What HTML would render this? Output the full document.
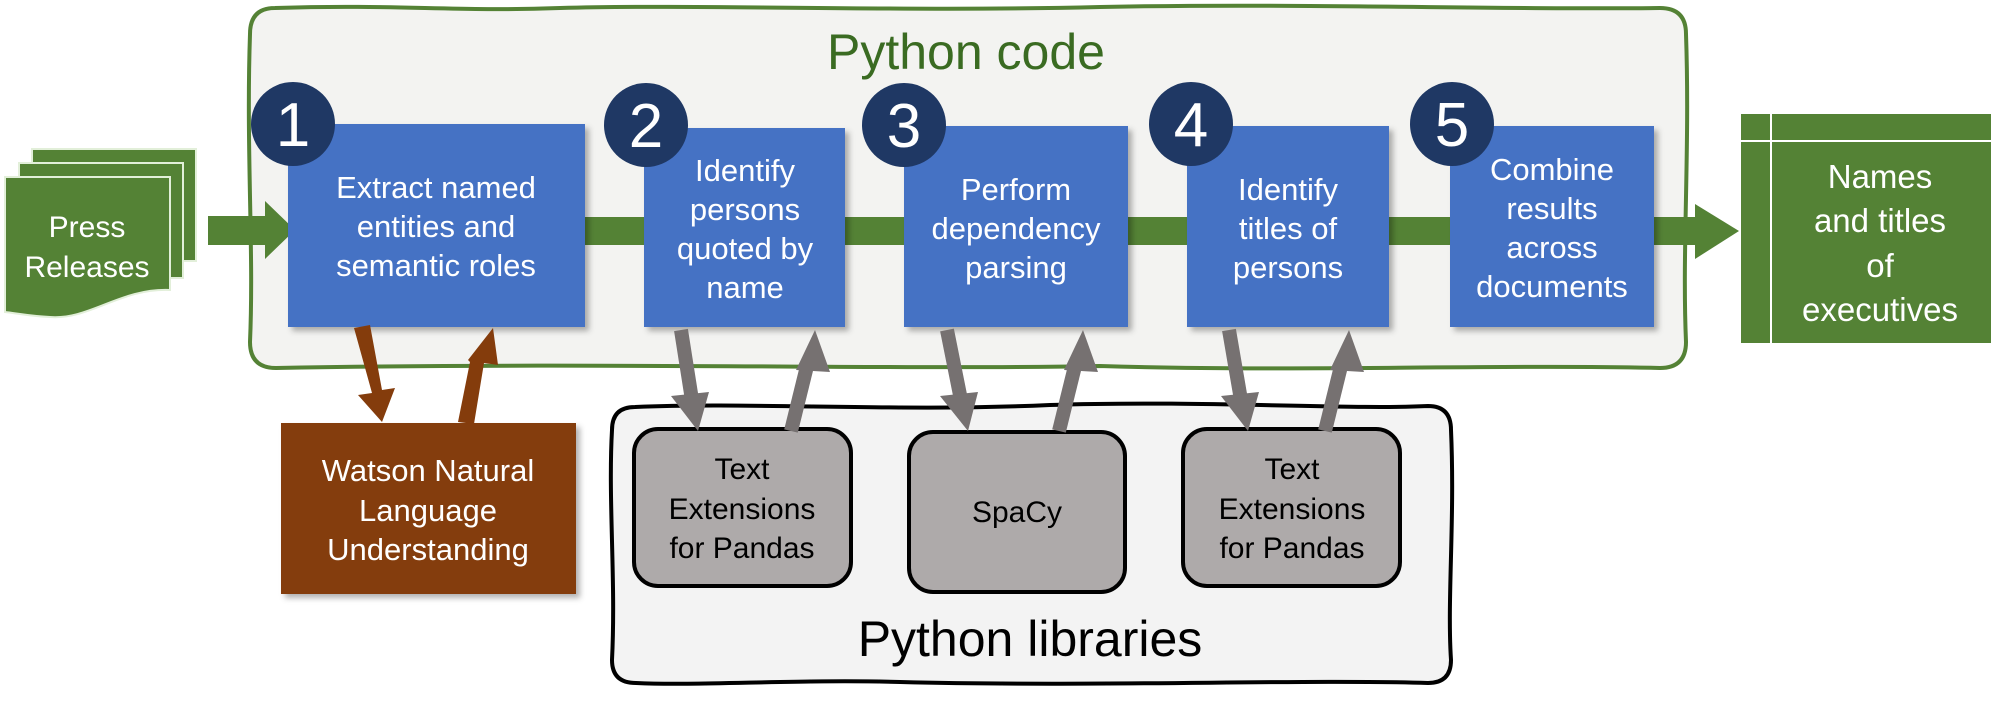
<!DOCTYPE html>
<html><head><meta charset="utf-8"><style>
html,body{margin:0;padding:0;background:#fff}
svg{display:block}
text{font-family:"Liberation Sans",sans-serif}
</style></head><body>
<svg width="1991" height="708" viewBox="0 0 1991 708" xmlns="http://www.w3.org/2000/svg">
<defs>
<filter id="sh" x="-10%" y="-10%" width="130%" height="130%"><feDropShadow dx="4" dy="4" stdDeviation="3" flood-color="#000" flood-opacity="0.3"/></filter>
</defs>
<path d="M275,8 C400,4 450,12 560,8 C700,4 900,12 1100,7 C1300,3 1500,10 1660,8 Q1686,8 1686,34 C1690,150 1682,250 1686,342 Q1686,368 1660,368 C1500,364 1300,372 1100,366 C900,370 600,362 276,368 Q250,368 250,342 C254,250 246,150 250,34 Q250,8 275,8 Z" fill="#f3f3f1" stroke="#548235" stroke-width="4"/>
<text x="966" y="69" font-size="50" fill="#3a6b22" text-anchor="middle">Python code</text>
<path d="M635,407 C750,402 900,412 1050,405 C1200,400 1350,410 1428,406 Q1451,406 1451,430 C1455,520 1447,600 1451,660 Q1451,683 1428,683 C1300,679 1100,687 900,682 C800,679 700,686 636,683 Q612,683 612,660 C616,580 608,500 612,430 Q612,407 635,407 Z" fill="#f3f3f3" stroke="#000" stroke-width="4"/>
<text x="1030" y="656" font-size="50" fill="#000" text-anchor="middle">Python libraries</text>
<rect x="32" y="149" width="164" height="112" fill="#548235" stroke="#e2efd9" stroke-width="2"/>
<rect x="19" y="163" width="164" height="115" fill="#548235" stroke="#e2efd9" stroke-width="2"/>
<path d="M5,177 L170,177 L170,290 C120,288 90,320 50,317 C30,316 15,313 5,312 Z" fill="#548235" stroke="#e2efd9" stroke-width="2"/>
<text font-size="30" fill="#fff" text-anchor="middle"><tspan x="87" y="237">Press</tspan><tspan x="87" y="277">Releases</tspan></text>
<polygon points="208,216 265,216 265,201 295,230 265,259 265,245 208,245" fill="#548235"/>
<rect x="585" y="217" width="1110" height="28" fill="#548235"/>
<polygon points="1695,204 1739,231 1695,259" fill="#548235"/>
<g fill="#4472c4" filter="url(#sh)">
<rect x="288" y="124" width="297" height="203"/>
<rect x="644" y="128" width="201" height="199"/>
<rect x="904" y="126" width="224" height="201"/>
<rect x="1187" y="126" width="202" height="201"/>
<rect x="1450" y="126" width="204" height="201"/>
</g>
<g font-size="31" fill="#fff" text-anchor="middle">
<text><tspan x="436" y="198">Extract named</tspan><tspan x="436" y="237">entities and</tspan><tspan x="436" y="276">semantic roles</tspan></text>
<text><tspan x="745" y="181">Identify</tspan><tspan x="745" y="220">persons</tspan><tspan x="745" y="259">quoted by</tspan><tspan x="745" y="298">name</tspan></text>
<text><tspan x="1016" y="200">Perform</tspan><tspan x="1016" y="239">dependency</tspan><tspan x="1016" y="278">parsing</tspan></text>
<text><tspan x="1288" y="200">Identify</tspan><tspan x="1288" y="239">titles of</tspan><tspan x="1288" y="278">persons</tspan></text>
<text><tspan x="1552" y="180">Combine</tspan><tspan x="1552" y="219">results</tspan><tspan x="1552" y="258">across</tspan><tspan x="1552" y="297">documents</tspan></text>
</g>
<g fill="#1f3864">
<circle cx="293" cy="124" r="42"/><circle cx="646" cy="125" r="42"/><circle cx="904" cy="125" r="42"/><circle cx="1191" cy="124" r="42"/><circle cx="1452" cy="124" r="42"/>
</g>
<g font-size="62" fill="#fff" text-anchor="middle">
<text x="293" y="146">1</text><text x="646" y="147">2</text><text x="904" y="147">3</text><text x="1191" y="146">4</text><text x="1452" y="146">5</text>
</g>
<rect x="1741" y="114" width="251" height="229" fill="#548235"/>
<line x1="1741" y1="141" x2="1992" y2="141" stroke="#fff" stroke-width="2"/>
<line x1="1771" y1="114" x2="1771" y2="343" stroke="#fff" stroke-width="2"/>
<g font-size="33" fill="#fff" text-anchor="middle">
<text><tspan x="1880" y="188">Names</tspan><tspan x="1880" y="232">and titles</tspan><tspan x="1880" y="277">of</tspan><tspan x="1880" y="321">executives</tspan></text>
</g>
<rect x="281" y="423" width="295" height="171" fill="#843c0c" filter="url(#sh)"/>
<text font-size="31" fill="#fff" text-anchor="middle"><tspan x="428" y="481">Watson Natural</tspan><tspan x="428" y="521">Language</tspan><tspan x="428" y="560">Understanding</tspan></text>
<g fill="#843c0c">
<polygon points="354,328 370,325 382,390 395,388 382,422 358,395 372,393"/>
<polygon points="458,422 474,424 484,363 498,365 493,328 468,360 470,362"/>
</g>
<g fill="#aeaaaa" stroke="#000" stroke-width="4">
<rect x="634" y="429" width="217" height="157" rx="24"/>
<rect x="909" y="432" width="216" height="160" rx="24"/>
<rect x="1183" y="429" width="217" height="157" rx="24"/>
</g>
<g font-size="30" fill="#000" text-anchor="middle">
<text><tspan x="742" y="479">Text</tspan><tspan x="742" y="519">Extensions</tspan><tspan x="742" y="558">for Pandas</tspan></text>
<text x="1017" y="522">SpaCy</text>
<text><tspan x="1292" y="479">Text</tspan><tspan x="1292" y="519">Extensions</tspan><tspan x="1292" y="558">for Pandas</tspan></text>
</g>
<g stroke="#767171" stroke-width="14" fill="none">
<line x1="681" y1="330" x2="692" y2="400"/><line x1="791" y1="431" x2="808" y2="362"/>
<line x1="947" y1="330" x2="961" y2="400"/><line x1="1059" y1="431" x2="1076" y2="362"/>
<line x1="1229" y1="330" x2="1241" y2="400"/><line x1="1325" y1="431" x2="1342" y2="362"/>
</g>
<g fill="#767171">
<polygon points="671,396 709,392 698,431"/><polygon points="796,370 830,372 815,330"/>
<polygon points="940,396 978,392 968,431"/><polygon points="1064,370 1098,372 1083,330"/>
<polygon points="1221,396 1259,392 1248,431"/><polygon points="1330,370 1364,372 1349,330"/>
</g>
</svg>
</body></html>
